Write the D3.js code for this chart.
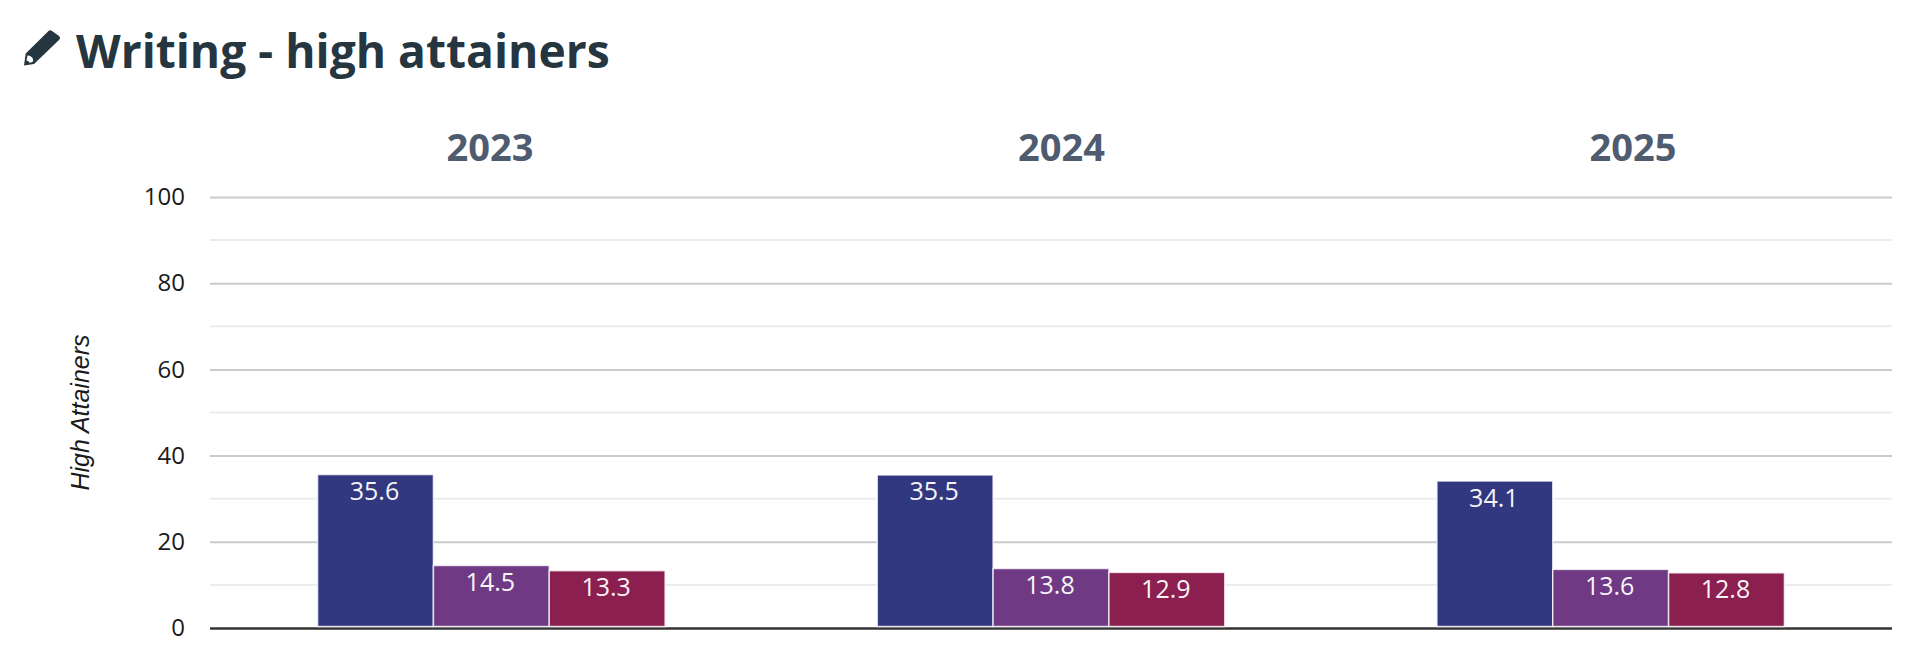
<!DOCTYPE html>
<html>
<head>
<meta charset="utf-8">
<script src="https://cdn.jsdelivr.net/npm/d3@7"></script>
<style>
  html, body { margin: 0; padding: 0; background: #fff; }
  svg { display: block; }
  text { font-family: "Open Sans", sans-serif; }
</style>
</head>
<body>
<div id="chart"></div>
<script>
'use strict';

var years = ['2023', '2024', '2025'];
var series = ['School', 'Local authority', 'National'];
var values2023 = [35.6, 14.5, 13.3];
var values2024 = [35.5, 13.8, 12.9];
var values2025 = [34.1, 13.6, 12.8];
var majorTicks = [0, 20, 40, 60, 80, 100];
var minorTicks = [10, 30, 50, 70, 90];
var colors = ['#32387f', '#6f3a83', '#8b1f4f'];

var rows = [values2023, values2024, values2025];

var chartWidth = 1920,
  chartHeight = 661,
  plotLeft = 210,
  plotRight = 1892,
  plotTop = 197,
  plotBottom = 628,
  groupWidth = 347.5;

var svg = d3.select('#chart').append('svg')
  .attr('width', chartWidth)
  .attr('height', chartHeight);

var y = d3.scaleLinear().domain([0, 100]).range([plotBottom, plotTop]);
var x = d3.scaleBand().domain(years).range([211.5, 1890.5]);
var inner = d3.scaleBand().domain(series).range([0, groupWidth]);
// the year headers are spaced a bit wider than the bar groups
var header = d3.scalePoint().domain(years).range([490, 1633]);

// Title
svg.append('path')
  .attr('d', 'M24,65.5 L25.7,53.5 L48,31.5 Q50,29.5 52,31 L59,36 Q61,38 59,40 L34,64 Z')
  .attr('fill', '#263640');
svg.append('path')
  .attr('d', 'M26.5,60.5 L27.5,55.5 Q31.5,55.5 33,59 Q33.5,61 32.5,62 L29.5,62.7 Q29,60.8 26.5,60.5 Z')
  .attr('fill', '#fff');
svg.append('text')
  .attr('x', 76)
  .attr('y', 68)
  .attr('font-size', 46.2)
  .attr('font-weight', 700)
  .attr('fill', '#263640')
  .text('Writing - high attainers');

svg.selectAll('.year')
  .data(years)
  .enter().append('text')
  .attr('class', 'year')
  .attr('x', d => header(d))
  .attr('y', 161)
  .attr('text-anchor', 'middle')
  .attr('font-size', 38)
  .attr('font-weight', 700)
  .attr('fill', '#4f5b6e')
  .text(d => d);

// Grid
svg.selectAll('.minor')
  .data(minorTicks)
  .enter().append('line')
  .attr('class', 'minor')
  .attr('x1', plotLeft)
  .attr('x2', plotRight)
  .attr('y1', d => y(d))
  .attr('y2', d => y(d))
  .attr('stroke', '#ececec')
  .attr('stroke-width', 2);

var axis = svg.append('g')
  .attr('transform', 'translate(' + plotLeft + ',0)')
  .call(d3.axisLeft(y).tickValues(majorTicks).tickSize(0).tickPadding(25));
axis.select('.domain').remove();
axis.selectAll('text')
  .attr('font-family', '"Open Sans", sans-serif')
  .attr('font-size', 24)
  .attr('fill', '#1a1a1a');
axis.selectAll('.tick').append('line')
  .attr('x2', plotRight - plotLeft)
  .attr('stroke', d => d === 0 ? '#333' : '#cbcbcb')
  .attr('stroke-width', d => d === 0 ? 2.5 : 2);

svg.append('text')
  .attr('transform', 'translate(89,412.5) rotate(-90)')
  .attr('text-anchor', 'middle')
  .attr('font-size', 25)
  .attr('font-style', 'italic')
  .style('font-family', '"Liberation Sans", sans-serif')
  .attr('fill', '#1a1a1a')
  .text('High Attainers');

// Bars
var groups = svg.selectAll('.group')
  .data(years)
  .enter().append('g')
  .attr('class', 'group')
  .attr('transform', d => 'translate(' + (x(d) + (x.bandwidth() - groupWidth) / 2) + ',0)');

var cells = groups.selectAll('.cell')
  .data((d, i) => rows[i].map((v, j) => ({ name: series[j], value: v, color: colors[j] })))
  .enter().append('g')
  .attr('class', 'cell');

cells.append('rect')
  .attr('x', d => inner(d.name))
  .attr('width', inner.bandwidth())
  .attr('y', d => y(d.value))
  .attr('height', d => y(0) - y(d.value) - 1.5)
  .attr('fill', d => d.color)
  .attr('stroke', '#fff')
  .attr('stroke-opacity', 0.75)
  .attr('stroke-width', 1.5);

cells.append('text')
  .attr('x', d => inner(d.name) + inner.bandwidth() / 2 - 1)
  .attr('y', d => y(d.value) + 25.5)
  .attr('text-anchor', 'middle')
  .attr('font-size', 25)
  .attr('fill', '#fff')
  .attr('opacity', 0.95)
  .text(d => d.value);
</script>
</body>
</html>
